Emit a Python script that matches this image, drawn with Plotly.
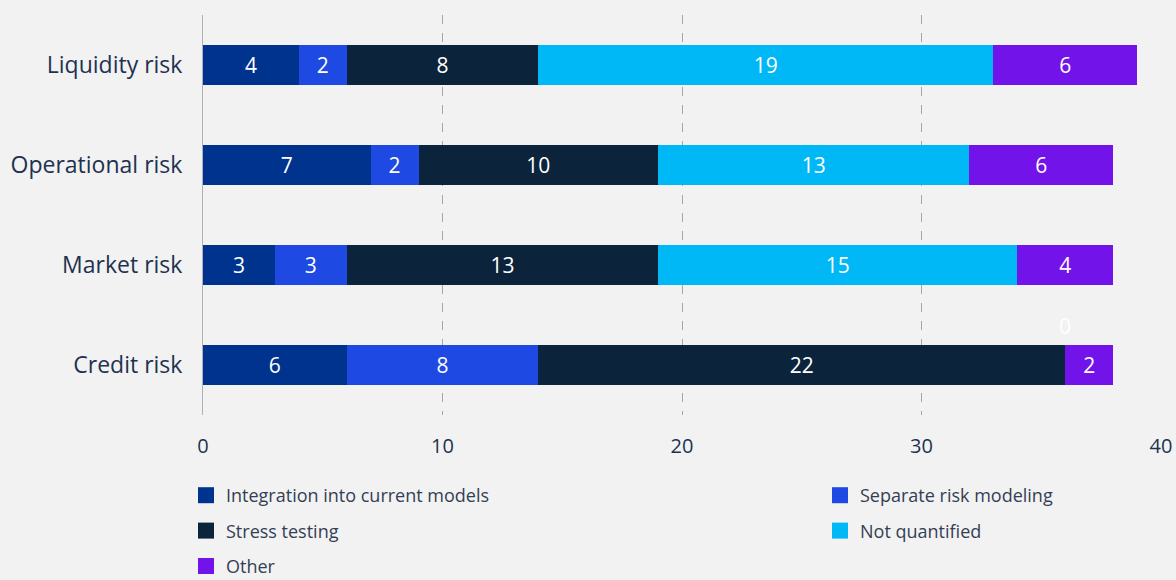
import plotly.graph_objects as go

categories = ["Liquidity risk", "Operational risk", "Market risk", "Credit risk"]
series_names = ["Integration into current models", "Separate risk modeling",
                "Stress testing", "Not quantified", "Other"]
integration = [4, 7, 3, 6]
separate = [2, 2, 3, 8]
stress = [8, 10, 13, 22]
not_quantified = [19, 13, 15, 0]
other = [6, 6, 4, 2]
x_ticks = [0, 10, 20, 30, 40]

colors = ["#00338D", "#1E49E2", "#0C233C", "#00B8F5", "#7213EA"]
all_series = [integration, separate, stress, not_quantified, other]
legend_ids = ["legend", "legend2", "legend", "legend2", "legend"]

FONT = "Open Sans"
fig = go.Figure()
for name, vals, col in zip(series_names, all_series, colors):
    fig.add_trace(go.Bar(
        y=categories, x=vals, name=name, orientation="h",
        marker=dict(color=col, line=dict(width=0)),
        width=0.4, showlegend=False,
        text=[str(v) if v > 0 else "" for v in vals],
        textposition="inside", insidetextanchor="middle", textangle=0,
        textfont=dict(color="white", size=21, family=FONT),
        hoverinfo="skip",
    ))

# legend entries (square markers) in two columns
for k, (name, col, lg) in enumerate(zip(series_names, colors, legend_ids)):
    fig.add_trace(go.Scatter(
        x=[None], y=[None], mode="markers", name=name,
        marker=dict(symbol="square", size=16, color=col),
        legend=lg, legendgroup=name, showlegend=True, hoverinfo="skip",
    ))

# zero-valued segment labels (drawn above the bar like in the source)
for i, cat in enumerate(categories):
    cum = 0
    for vals in all_series:
        if vals[i] == 0:
            fig.add_annotation(x=cum, y=cat, text=str(vals[i]), showarrow=False,
                               yshift=39, font=dict(color="white", size=21, family=FONT))
        cum += vals[i]

leg_common = dict(orientation="v", xref="container", yref="container",
                  yanchor="top", xanchor="left", traceorder="grouped",
                  tracegroupgap=9, bgcolor="rgba(0,0,0,0)",
                  font=dict(size=18, color="#333F55", family=FONT),
                  itemclick=False, itemdoubleclick=False)

fig.update_layout(
    barmode="stack",
    width=1176, height=580,
    paper_bgcolor="#F2F2F2", plot_bgcolor="#F2F2F2",
    margin=dict(l=203, r=15, t=15, b=165, autoexpand=False),
    font=dict(family=FONT, color="#1E3250"),
    showlegend=True,
    legend=dict(x=186 / 1176, y=1 - 477 / 580, **leg_common),
    legend2=dict(x=820 / 1176, y=1 - 477 / 580, **leg_common),
)
fig.update_xaxes(range=[0, 40], tickvals=x_ticks, ticktext=[str(t) for t in x_ticks],
                 showgrid=True, gridcolor="#A6A6A6", griddash="dash", gridwidth=1,
                 zeroline=False, showline=False, ticks="", tickangle=0,
                 tickfont=dict(size=20, color="#1E3250"), ticklabelstandoff=17)
fig.update_yaxes(categoryorder="array", categoryarray=categories[::-1],
                 showgrid=False, showline=True, linecolor="#B0B0B0", linewidth=1,
                 ticks="", tickfont=dict(size=23, color="#1E3250"), ticklabelstandoff=15)

fig.write_html("out.html", config={"displayModeBar": False},
               post_script="document.body.style.margin='0';document.body.style.background='#F2F2F2';")
